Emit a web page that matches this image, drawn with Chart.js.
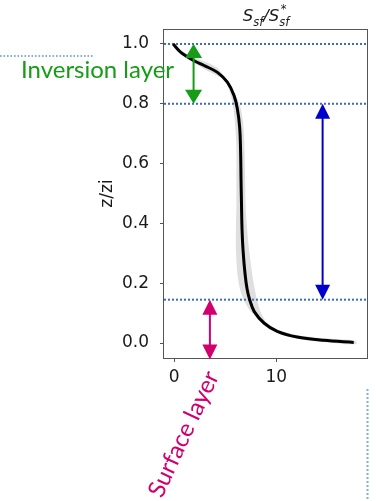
<!DOCTYPE html>
<html>
<head>
<meta charset="utf-8">
<script src="https://cdn.jsdelivr.net/npm/chart.js@4"></script>
<style>
  html, body { margin: 0; padding: 0; background: #ffffff; }
  canvas { display: block; }
</style>
</head>
<body>
<canvas id="profile" width="376" height="501"></canvas>
<script>
// Mean normalised scalar flux profile S_sf/S*_sf against z/zi
const profileS = [-0.1, 0.65, 1.95, 2.93, 4.24, 5.21, 5.86, 6.19, 6.42, 6.51, 6.55, 6.6, 6.65, 6.75, 6.95, 7.15, 7.4, 7.85, 8.8, 10.1, 12.05, 14.65, 17.6];
const profileZ = [1.0, 0.972, 0.944, 0.928, 0.905, 0.872, 0.828, 0.783, 0.72, 0.64, 0.55, 0.46, 0.38, 0.31, 0.23, 0.18, 0.145, 0.105, 0.067, 0.039, 0.02, 0.009, 0.002];

// Outline of the spread around the mean profile (upper-left and lower-right edges)
const bandUpperS = [-0.35, 0.45, 1.75, 2.85, 4.15, 4.95, 5.5, 5.8, 6.0, 6.1, 6.1, 6.1, 6.05, 6.05, 6.2, 6.45, 6.75, 7.3, 8.4, 9.9, 11.9, 14.6, 17.8];
const bandUpperZ = [1.004, 0.984, 0.958, 0.943, 0.922, 0.888, 0.835, 0.785, 0.72, 0.64, 0.55, 0.46, 0.38, 0.31, 0.23, 0.18, 0.15, 0.115, 0.077, 0.048, 0.028, 0.016, 0.008];
const bandLowerS = [0.15, 0.85, 2.15, 3.05, 4.4, 5.45, 6.15, 6.55, 6.8, 6.9, 6.95, 7.0, 7.15, 7.35, 7.65, 7.9, 8.15, 8.55, 9.3, 10.5, 12.3, 14.8, 17.8];
const bandLowerZ = [0.995, 0.962, 0.932, 0.914, 0.89, 0.857, 0.82, 0.78, 0.72, 0.64, 0.55, 0.46, 0.38, 0.31, 0.23, 0.18, 0.14, 0.098, 0.058, 0.031, 0.013, 0.003, -0.004];

// Layer boundaries (z/zi)
const layerLevels = [1.0, 0.8, 0.145];

// Double arrows marking each layer: position in S and vertical extent in z/zi
const arrowNames = ['Inversion layer', 'Mixed layer', 'Surface layer'];
const arrowS = [1.9, 14.55, 3.5];
const arrowTop = [1.0, 0.8, 0.145];
const arrowBottom = [0.8, 0.145, -0.055];

// Axis ticks and limits
const xTicks = [0, 10];
const yTicks = [0.0, 0.2, 0.4, 0.6, 0.8, 1.0];
const xLimits = [-1, 19];
const yLimits = [-0.05, 1.05];

const toPoints = (xs, ys) => xs.map((v, i) => ({ x: v, y: ys[i] }));

const bandOutline = toPoints(bandUpperS, bandUpperZ)
  .concat(toPoints(bandLowerS, bandLowerZ).reverse());

const arrowColors = ['#169c16', '#0000cc', '#d1006f'];

const layerDatasets = layerLevels.map(level => ({
  label: 'z/zi = ' + level,
  data: [{ x: xLimits[0], y: level }, { x: xLimits[1], y: level }],
  showLine: true,
  borderColor: '#3a6db5',
  borderWidth: 2,
  borderDash: [2, 2],
  borderCapStyle: 'butt',
  pointRadius: 0,
  fill: false,
  order: 2
}));

const decorPlugin = {
  id: 'decor',
  afterDatasetsDraw(chart) {
    const { ctx, chartArea: a, scales: { x, y } } = chart;
    ctx.save();
    // axes frame
    ctx.strokeStyle = '#555555';
    ctx.lineWidth = 1;
    ctx.strokeRect(a.left - 0.5, a.top + 0.5, a.right - a.left, a.bottom - a.top);

    // double arrows
    arrowS.forEach((s, i) => {
      const px = x.getPixelForValue(s);
      const y1 = y.getPixelForValue(arrowTop[i]);
      const y2 = y.getPixelForValue(arrowBottom[i]);
      const headLen = i === 0 ? 14 : 15;
      const half = i === 0 ? 8.5 : 7.5;
      ctx.strokeStyle = arrowColors[i];
      ctx.fillStyle = arrowColors[i];
      ctx.lineWidth = 2;
      ctx.beginPath();
      ctx.moveTo(px, y1 + headLen - 1);
      ctx.lineTo(px, y2 - headLen + 1);
      ctx.stroke();
      ctx.beginPath();
      ctx.moveTo(px, y1);
      ctx.lineTo(px - half, y1 + headLen);
      ctx.lineTo(px + half, y1 + headLen);
      ctx.closePath();
      ctx.fill();
      ctx.beginPath();
      ctx.moveTo(px, y2);
      ctx.lineTo(px - half, y2 - headLen);
      ctx.lineTo(px + half, y2 - headLen);
      ctx.closePath();
      ctx.fill();
    });
    ctx.restore();
  },
  afterDraw(chart) {
    const { ctx, chartArea: a } = chart;
    ctx.save();

    // title S_sf / S*_sf
    const big = 'italic 16.5px "DejaVu Sans"';
    const small = 'italic 11.5px "DejaVu Sans"';
    ctx.fillStyle = '#1a1a1a';
    ctx.textBaseline = 'alphabetic';
    ctx.textAlign = 'left';
    ctx.font = big;
    const wS = ctx.measureText('S').width;
    const wSlash = ctx.measureText('/').width;
    ctx.font = small;
    const wSub = ctx.measureText('sf').width;
    const total = wS + wSub + wSlash + wS + wSub;
    let tx = (a.left + a.right) / 2 - total / 2;
    const base = 21;
    ctx.font = big; ctx.fillText('S', tx, base); tx += wS;
    ctx.font = small; ctx.fillText('sf', tx, base + 4.5); tx += wSub;
    ctx.font = big; ctx.fillText('/', tx, base); tx += wSlash;
    ctx.fillText('S', tx, base); tx += wS;
    ctx.font = small; ctx.fillText('sf', tx, base + 4.5);
    ctx.fillText('*', tx + 1.5, base - 8);

    // layer labels
    ctx.font = '24px Lato';
    ctx.fillStyle = arrowColors[0];
    ctx.fillText(arrowNames[0], 21, 78);
    ctx.fillStyle = arrowColors[2];
    ctx.translate(162, 499);
    ctx.rotate(-65 * Math.PI / 180);
    ctx.fillText(arrowNames[2], 0, 0);
    ctx.restore();

    // neighbouring panel guides
    ctx.save();
    ctx.strokeStyle = '#7fb2d5';
    ctx.lineWidth = 2;
    ctx.setLineDash([1.6, 1.9]);
    ctx.beginPath();
    ctx.moveTo(0, 56);
    ctx.lineTo(94, 56);
    ctx.stroke();
    ctx.setLineDash([2, 2]);
    ctx.beginPath();
    ctx.moveTo(367.5, 389);
    ctx.lineTo(367.5, 501);
    ctx.stroke();
    ctx.restore();
  }
};

new Chart(document.getElementById('profile'), {
  type: 'scatter',
  data: {
    datasets: [
      {
        label: 'profile',
        data: toPoints(profileS, profileZ),
        showLine: true,
        borderColor: '#000000',
        borderWidth: 3,
        tension: 0.35,
        pointRadius: 0,
        fill: false,
        order: 1
      },
      ...layerDatasets,
      {
        label: 'spread',
        data: bandOutline,
        showLine: true,
        borderWidth: 0,
        borderColor: 'rgba(0,0,0,0)',
        backgroundColor: 'rgba(185,185,185,0.45)',
        tension: 0.3,
        pointRadius: 0,
        fill: 'shape',
        order: 3
      }
    ]
  },
  options: {
    responsive: false,
    animation: false,
    devicePixelRatio: 1,
    layout: { padding: { left: 0, top: 29, right: 8, bottom: 113 } },
    plugins: {
      legend: { display: false },
      tooltip: { enabled: false },
      title: { display: false }
    },
    scales: {
      x: {
        type: 'linear',
        min: xLimits[0],
        max: xLimits[1],
        afterBuildTicks: s => { s.ticks = xTicks.map(v => ({ value: v })); },
        afterFit: s => { s.height = 30; },
        grid: { drawOnChartArea: false, drawTicks: true, tickLength: 4, tickColor: '#555555' },
        border: { display: false },
        ticks: {
          padding: 5,
          color: '#1a1a1a',
          font: { family: '"DejaVu Sans"', size: 17 },
          callback: v => String(v)
        }
      },
      y: {
        type: 'linear',
        min: yLimits[0],
        max: yLimits[1],
        afterBuildTicks: s => { s.ticks = yTicks.map(v => ({ value: v })); },
        afterFit: s => { s.width = 164; },
        grid: { drawOnChartArea: false, drawTicks: true, tickLength: 4, tickColor: '#555555' },
        border: { display: false },
        title: {
          display: true,
          text: 'z/zi',
          color: '#1a1a1a',
          font: { family: '"DejaVu Sans"', size: 17 },
          padding: { top: 97, bottom: 0 }
        },
        ticks: {
          padding: 11,
          color: '#1a1a1a',
          font: { family: '"DejaVu Sans"', size: 17 },
          callback: v => Number(v).toFixed(1)
        }
      }
    }
  },
  plugins: [decorPlugin]
});
</script>
</body>
</html>
